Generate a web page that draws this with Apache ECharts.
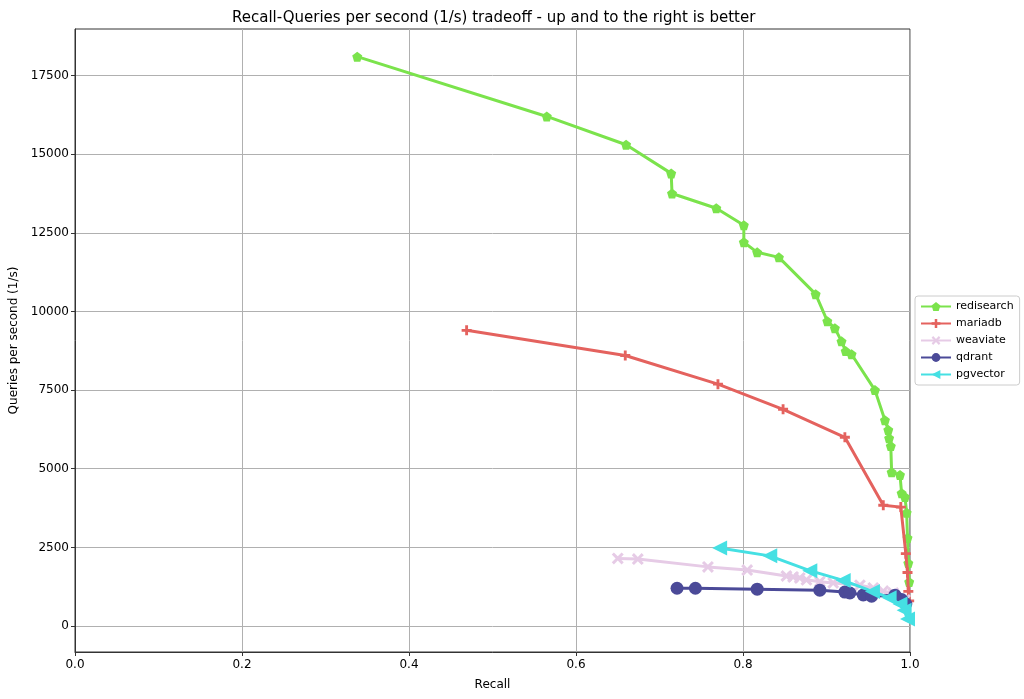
<!DOCTYPE html>
<html>
<head>
<meta charset="utf-8">
<script src="https://cdn.jsdelivr.net/npm/echarts@6/dist/echarts.min.js"></script>
<style>
  html, body { margin: 0; padding: 0; background: #fff; }
  #chart { width: 1024px; height: 699px; }
</style>
</head>
<body>
<div id="chart"></div>
<script>
// recall / qps pairs
var redisearchRecall = [0.338, 0.565, 0.660, 0.714, 0.715, 0.768, 0.801, 0.801, 0.817, 0.843, 0.887, 0.901, 0.910, 0.918, 0.923, 0.930, 0.958, 0.970, 0.974, 0.975, 0.977, 0.978, 0.988, 0.990, 0.994, 0.996, 0.997, 0.998, 0.999];
var redisearchQps = [18100, 16200, 15300, 14390, 13750, 13280, 12740, 12200, 11880, 11720, 10550, 9690, 9470, 9050, 8740, 8640, 7500, 6540, 6230, 5970, 5720, 4890, 4800, 4220, 4100, 3600, 2800, 2000, 1400];

var mariadbRecall = [0.469, 0.659, 0.770, 0.848, 0.922, 0.968, 0.989, 0.995, 0.997, 0.998, 0.999];
var mariadbQps = [9400, 8600, 7690, 6890, 6000, 3840, 3780, 2300, 1700, 1100, 800];

var weaviateRecall = [0.650, 0.674, 0.758, 0.805, 0.852, 0.860, 0.868, 0.876, 0.892, 0.908, 0.940, 0.956, 0.968, 0.980, 0.994];
var weaviateQps = [2150, 2130, 1880, 1780, 1590, 1560, 1530, 1470, 1410, 1370, 1300, 1210, 1110, 1050, 830];

var qdrantRecall = [0.721, 0.743, 0.817, 0.892, 0.922, 0.928, 0.944, 0.954, 0.982, 0.990, 0.995];
var qdrantQps = [1200, 1200, 1170, 1140, 1080, 1050, 990, 950, 980, 840, 700];

var pgvectorRecall = [0.772, 0.832, 0.880, 0.920, 0.955, 0.975, 0.988, 0.993, 0.997];
var pgvectorQps = [2480, 2230, 1760, 1450, 1100, 900, 700, 500, 220];

var yTicks = [0, 2500, 5000, 7500, 10000, 12500, 15000, 17500];

function pairs(xs, ys) {
    return xs.map(function (x, i) { return [x, ys[i]]; });
}

var symPentagon = 'path://M0,-10 L9.5,-3.1 L5.9,8.1 L-5.9,8.1 L-9.5,-3.1Z';
var symPlus = 'path://M-2,-7 H2 V-2 H7 V2 H2 V7 H-2 V2 H-7 V-2 H-2Z';
var symX = 'path://M-7,-4.5 L-4.5,-7 L0,-2.5 L4.5,-7 L7,-4.5 L2.5,0 L7,4.5 L4.5,7 L0,2.5 L-4.5,7 L-7,4.5 L-2.5,0Z';
var symTri = 'path://M-10,0 L8,-9 L8,9Z';

function makeSeries(name, xs, ys, color, symbol, size, z) {
    return {
        name: name,
        type: 'line',
        data: pairs(xs, ys),
        symbol: symbol,
        symbolSize: size,
        showAllSymbol: true,
        z: z,
        lineStyle: { color: color, width: 3 },
        itemStyle: { color: color, borderWidth: 0 },
        emphasis: { disabled: true }
    };
}

var chart = echarts.init(document.getElementById('chart'));
var fontFam = 'DejaVu Sans';

var option = {
    animation: false,
    textStyle: { fontFamily: fontFam },
    title: {
        text: 'Recall-Queries per second (1/s) tradeoff - up and to the right is better',
        left: 227, top: 6,
        textStyle: { fontSize: 15, fontWeight: 'normal', color: '#000', fontFamily: fontFam }
    },
    grid: {
        left: 75, right: 114, top: 29, bottom: 47,
        outerBoundsMode: 'none',
        containLabel: false,
        show: true, borderColor: '#333', borderWidth: 1
    },
    legend: {
        orient: 'vertical',
        left: 915, top: 296,
        itemWidth: 30, itemHeight: 11, itemGap: 6,
        padding: [5, 6, 5, 5],
        borderColor: '#ccc', borderWidth: 1, borderRadius: 3,
        backgroundColor: '#fff',
        textStyle: { fontSize: 11, color: '#000', fontFamily: fontFam },
        data: ['redisearch', 'mariadb', 'weaviate', 'qdrant', 'pgvector']
    },
    xAxis: {
        type: 'value', min: 0, max: 1, interval: 0.2,
        name: 'Recall', nameLocation: 'middle', nameGap: 27,
        nameTextStyle: { fontSize: 12, color: '#000', fontFamily: fontFam },
        axisLine: { show: true, onZero: false, lineStyle: { color: '#333' } },
        axisTick: { show: true, inside: false, length: 4, lineStyle: { color: '#333' } },
        axisLabel: { fontSize: 12, color: '#000', margin: 7,
            formatter: function (v) { return v.toFixed(1); } },
        splitLine: { show: true, lineStyle: { color: '#b0b0b0', width: 1 } }
    },
    yAxis: {
        type: 'value', min: -826, max: 18980,
        name: 'Queries per second (1/s)', nameLocation: 'middle', nameGap: 54, nameRotate: 90,
        nameTextStyle: { fontSize: 12, color: '#000', fontFamily: fontFam },
        axisLine: { show: true, onZero: false, lineStyle: { color: '#333' } },
        axisTick: { show: true, inside: false, length: 4, customValues: yTicks, lineStyle: { color: '#333' } },
        axisLabel: { fontSize: 12, color: '#000', margin: 6, customValues: yTicks,
            formatter: function (v) { return String(v); } },
        splitLine: { show: true, lineStyle: { color: '#b0b0b0', width: 1 } }
    },
    series: [
        makeSeries('redisearch', redisearchRecall, redisearchQps, '#7be34c', symPentagon, 10, 5),
        makeSeries('mariadb', mariadbRecall, mariadbQps, '#e4625e', symPlus, 10, 6),
        makeSeries('weaviate', weaviateRecall, weaviateQps, '#e6cbe6', symX, 12, 7),
        makeSeries('qdrant', qdrantRecall, qdrantQps, '#4b4a98', 'circle', 13, 8),
        makeSeries('pgvector', pgvectorRecall, pgvectorQps, '#45e0e3', symTri, 15, 9)
    ]
};

chart.setOption(option);
</script>
</body>
</html>
